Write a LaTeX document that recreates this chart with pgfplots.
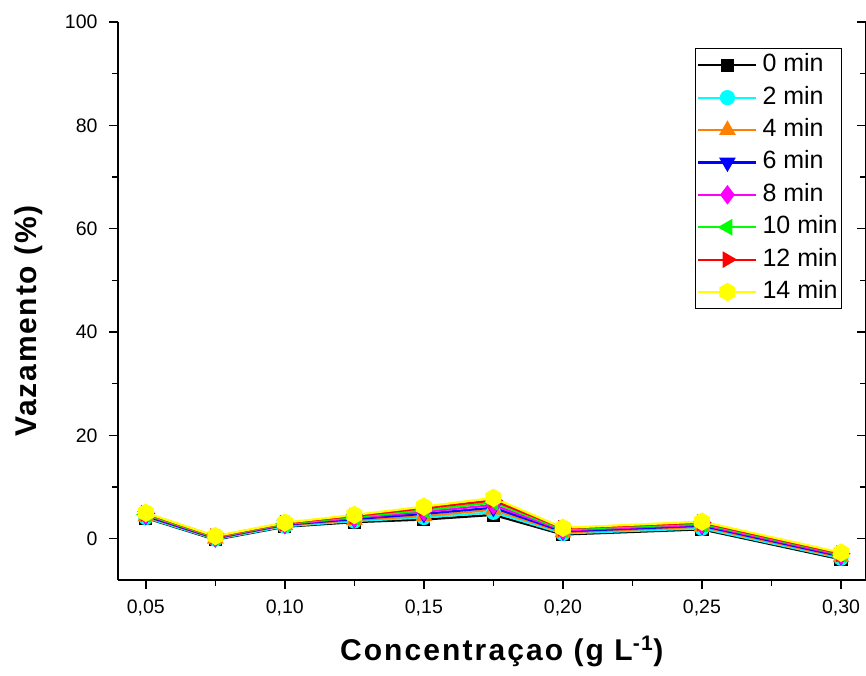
\documentclass[border=0pt]{standalone}
\usepackage{fontspec}
\setmainfont{Liberation Sans}
\usepackage{pgfplots}
\pgfplotsset{compat=1.18}
\definecolor{corange}{RGB}{255,128,0}
\definecolor{cgreen}{RGB}{0,255,0}
\definecolor{cyellow}{RGB}{255,255,0}
\definecolor{ccyan}{RGB}{0,255,255}
\definecolor{cmagenta}{RGB}{255,0,255}
\definecolor{cblue}{RGB}{0,0,255}
\definecolor{cred}{RGB}{255,0,0}
\pgfdeclareplotmark{hexagon}{%
  \pgfpathmoveto{\pgfqpointpolar{90}{\pgfplotmarksize}}%
  \pgfpathlineto{\pgfqpointpolar{150}{\pgfplotmarksize}}%
  \pgfpathlineto{\pgfqpointpolar{210}{\pgfplotmarksize}}%
  \pgfpathlineto{\pgfqpointpolar{270}{\pgfplotmarksize}}%
  \pgfpathlineto{\pgfqpointpolar{330}{\pgfplotmarksize}}%
  \pgfpathlineto{\pgfqpointpolar{30}{\pgfplotmarksize}}%
  \pgfpathclose\pgfusepathqfillstroke}
\begin{document}
\begin{tikzpicture}
\begin{axis}[
  at={(0pt,0pt)}, anchor=south west,
  scale only axis, width=748pt, height=558pt,
  xmin=0.04, xmax=0.309, ymin=-8, ymax=100,
  axis x line*=bottom, axis y line*=left,
  axis line style={line width=2pt, -},
  xtick={0.05,0.10,0.15,0.20,0.25,0.30},
  minor xtick={0.075,0.125,0.175,0.225,0.275},
  ytick={0,20,40,60,80,100},
  minor ytick={10,30,50,70,90},
  tick align=outside,
  major tick length=9pt, minor tick length=6pt,
  every tick/.style={line width=1.6pt, black},
  /pgf/number format/assume math mode=true,
  xticklabel style={/pgf/number format/fixed, /pgf/number format/fixed zerofill, /pgf/number format/precision=2, /pgf/number format/use comma, yshift=-7pt},
  ticklabel style={font=\fontsize{19.5}{23}\selectfont},
  yticklabel style={xshift=-8pt},
  xlabel={\bfseries\addfontfeatures{LetterSpace=7}Concentraçao (g L\textsuperscript{-1})},
  ylabel={\bfseries\addfontfeatures{LetterSpace=6}Vazamento (\%)},
  label style={font=\fontsize{30}{35}\selectfont},
  xlabel style={at={(axis description cs:0.513,-0.1434)}, anchor=base},
  ylabel style={at={(axis description cs:-0.119,0.464)}, anchor=center},
  every axis plot/.append style={line width=2.2pt, mark size=6.5pt, mark options={solid}},
  legend style={at={(rel axis cs:0.968,0.953)}, anchor=north east, draw=black, line width=1pt,
    font=\fontsize{25}{29}\selectfont, row sep=5.4pt, column sep=3pt, inner xsep=2pt, inner ysep=3pt,
    nodes={text height=18pt, text depth=5pt, inner sep=2pt}},
  legend cell align=left,
  legend image code/.code={\draw[mark repeat=2,mark phase=2,#1] plot coordinates {(0pt,0pt) (29pt,0pt) (58pt,0pt)};},
]
\addplot[black, mark=square*, mark size=5.5pt] coordinates {(0.05,4.0) (0.075,-0.2) (0.10,2.3) (0.125,3.2) (0.15,3.7) (0.175,4.6) (0.20,0.8) (0.25,1.8) (0.30,-4.0)};
\addlegendentry{0 min}
\addplot[ccyan, mark=*] coordinates {(0.05,4.1) (0.075,-0.1) (0.10,2.4) (0.125,3.4) (0.15,4.1) (0.175,5.1) (0.20,1.0) (0.25,2.0) (0.30,-3.8)};
\addlegendentry{2 min}
\addplot[corange, mark=triangle*, mark size=7.5pt] coordinates {(0.05,4.3) (0.075,0.0) (0.10,2.6) (0.125,3.6) (0.15,4.4) (0.175,5.6) (0.20,1.2) (0.25,2.3) (0.30,-3.6)};
\addlegendentry{4 min}
\addplot[cblue, mark=triangle*, mark size=7.5pt, mark options={rotate=180}] coordinates {(0.05,4.4) (0.075,0.1) (0.10,2.7) (0.125,3.8) (0.15,4.8) (0.175,6.0) (0.20,1.4) (0.25,2.5) (0.30,-3.4)};
\addlegendentry{6 min}
\addplot[cmagenta, mark=diamond*, mark size=8pt] coordinates {(0.05,4.6) (0.075,0.2) (0.10,2.8) (0.125,4.0) (0.15,5.2) (0.175,6.5) (0.20,1.6) (0.25,2.7) (0.30,-3.2)};
\addlegendentry{8 min}
\addplot[cgreen, mark=triangle*, mark size=7.5pt, mark options={rotate=90}] coordinates {(0.05,4.7) (0.075,0.3) (0.10,2.9) (0.125,4.2) (0.15,5.5) (0.175,7.0) (0.20,1.8) (0.25,2.9) (0.30,-3.0)};
\addlegendentry{10 min}
\addplot[cred, mark=triangle*, mark size=7.5pt, mark options={rotate=-90}] coordinates {(0.05,4.9) (0.075,0.4) (0.10,3.0) (0.125,4.4) (0.15,5.9) (0.175,7.4) (0.20,2.0) (0.25,3.1) (0.30,-2.9)};
\addlegendentry{12 min}
\addplot[cyellow, mark=hexagon, mark size=8pt] coordinates {(0.05,5.0) (0.075,0.5) (0.10,3.1) (0.125,4.6) (0.15,6.2) (0.175,7.9) (0.20,2.1) (0.25,3.3) (0.30,-2.7)};
\addlegendentry{14 min}
\end{axis}
\begin{axis}[
  at={(0pt,0pt)}, anchor=south west,
  scale only axis, width=748pt, height=558pt,
  xmin=0.04, xmax=0.309, ymin=-8, ymax=100,
  axis x line=none, axis y line*=right,
  axis line style={line width=2pt, -},
  ytick={0,20,40,60,80,100}, minor ytick={10,30,50,70,90},
  yticklabels={}, tick align=inside,
  major tick length=9pt, minor tick length=6pt,
  every tick/.style={line width=1.6pt, black},
]
\end{axis}
\pgfresetboundingbox
\useasboundingbox (-118pt,-95pt) rectangle (748pt,580pt);
\end{tikzpicture}
\end{document}
